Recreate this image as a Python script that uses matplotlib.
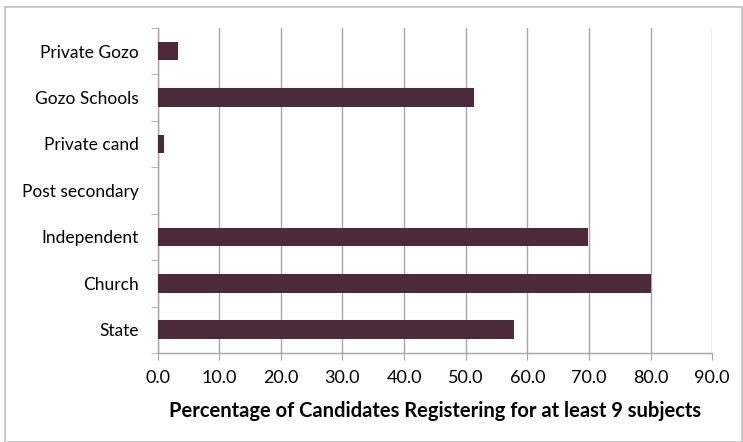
import matplotlib.pyplot as plt
import numpy as np
from matplotlib.patches import Rectangle

# data (bottom to top, as in the chart)
categories = ['State', 'Church', 'Independent', 'Post secondary',
              'Private cand', 'Gozo Schools', 'Private Gozo']
values = [57.9, 80.0, 69.9, 0.0, 1.0, 51.3, 3.3]
x_ticks = [0, 10, 20, 30, 40, 50, 60, 70, 80, 90]

bar_color = '#4d2a3b'
grid_color = '#a6a6a6'

plt.rcParams['font.family'] = ['Lato', 'DejaVu Sans']

fig = plt.figure(figsize=(7.43, 4.42), dpi=100)
ax = fig.add_axes([0.212, 0.2014, 0.7465, 0.7356])

y = np.arange(len(categories))
ax.barh(y, values, height=0.4, color=bar_color, zorder=3)

ax.set_xlim(0, 90)
ax.set_ylim(-0.5, len(categories) - 0.5)
ax.set_xticks(x_ticks)
ax.set_xticklabels([f'{v:.1f}' for v in x_ticks], fontsize=13)
ax.set_yticks(y)
ax.set_yticklabels(categories, fontsize=12.5)
ax.set_yticks(np.arange(-0.5, len(categories), 1), minor=True)

ax.tick_params(axis='y', which='major', length=0, pad=13.5)
ax.tick_params(axis='y', which='minor', length=5, color=grid_color, direction='out')
ax.tick_params(axis='x', which='major', length=5, color=grid_color, direction='out', pad=7)

ax.xaxis.grid(True, color=grid_color, linewidth=1, zorder=0)
ax.set_axisbelow(True)
for side in ['top', 'right']:
    ax.spines[side].set_visible(False)
for side in ['left', 'bottom']:
    ax.spines[side].set_color(grid_color)
    ax.spines[side].set_linewidth(1)

ax.set_xlabel('Percentage of Candidates Registering for at least 9 subjects',
              fontsize=14.5, fontweight='bold', labelpad=11)

# chart border
fig.patches.append(Rectangle((5 / 743, 0.0), 1 - 6 / 743, 1 - 7 / 442,
                             transform=fig.transFigure, fill=False,
                             edgecolor='#bfbfbf', linewidth=1.2))

fig.savefig('out.png', dpi=100, facecolor='white')
